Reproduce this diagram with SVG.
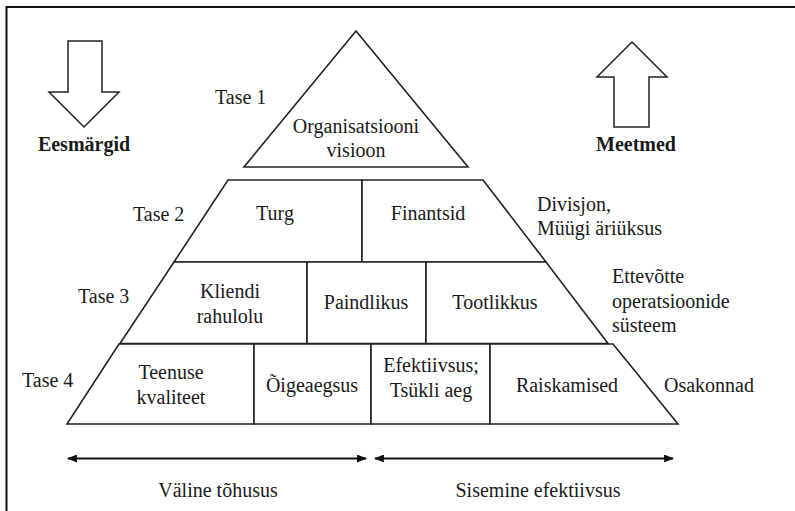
<svg xmlns="http://www.w3.org/2000/svg" width="795" height="511" viewBox="0 0 795 511">
  <defs>
    <style>
      .cell { fill: #ffffff; stroke: #222; stroke-width: 1.6; stroke-linejoin: miter; }
      .big { fill: #ffffff; stroke: #222; stroke-width: 1.5; }
      text { font-family: 'Liberation Serif', Tinos, 'Times New Roman', 'DejaVu Serif', 'Noto Serif', serif; font-size: 20px; fill: #1a1a1a; }
      .c { text-anchor: middle; }
      .b { font-weight: bold; }
      .conn { stroke: #111; stroke-width: 2; fill: none; }
    </style>
    <marker id="ah" viewBox="0 0 10 8" refX="9" refY="4" markerWidth="5" markerHeight="4" orient="auto-start-reverse" markerUnits="strokeWidth">
      <path d="M0,0 L10,4 L0,8 Z" fill="#111"/>
    </marker>
  </defs>

  <rect width="795" height="511" fill="#ffffff"/>
  <!-- frame: only the top and left sides fall inside the canvas -->
  <path d="M6.5,511 V7 H795" fill="none" stroke="#111" stroke-width="2"/>

  <!-- direction arrows -->
  <g id="goals">
    <polygon class="big" points="68,41 102,41 102,92 119,92 84,127 49,92 68,92"/>
    <text class="b c" x="84" y="151">Eesmärgid</text>
  </g>
  <g id="measures">
    <polygon class="big" points="632,42 667,77 649,77 649,127 614,127 614,77 597,77"/>
    <text class="b c" x="636" y="151">Meetmed</text>
  </g>

  <!-- level labels -->
  <g id="levels">
    <text x="215" y="104">Tase 1</text>
    <text x="133" y="221">Tase 2</text>
    <text x="78" y="303">Tase 3</text>
    <text x="22" y="387">Tase 4</text>
  </g>

  <!-- level 1 -->
  <g id="vision">
    <polygon class="cell" points="356,31 468,167 244,167"/>
    <text class="c" x="356" y="133">Organisatsiooni</text>
    <text class="c" x="356" y="157">visioon</text>
  </g>

  <!-- level 2 -->
  <g id="market">
    <polygon class="cell" points="228,180 362,180 362,262 174,262"/>
    <text class="c" x="275" y="220">Turg</text>
  </g>
  <g id="finance">
    <polygon class="cell" points="362,180 483,180 546,262 362,262"/>
    <text class="c" x="428" y="220">Finantsid</text>
  </g>
  <g id="division">
    <text x="537" y="211">Divisjon,</text>
    <text x="537" y="235">Müügi äriüksus</text>
  </g>

  <!-- level 3 -->
  <g id="satisfaction">
    <polygon class="cell" points="174,262 307,262 307,343.5 120,343.5"/>
    <text class="c" x="230" y="298">Kliendi</text>
    <text class="c" x="230" y="323">rahulolu</text>
  </g>
  <g id="flexibility">
    <polygon class="cell" points="307,262 426,262 426,343.5 307,343.5"/>
    <text class="c" x="366" y="309">Paindlikus</text>
  </g>
  <g id="productivity">
    <polygon class="cell" points="426,262 546,262 608,343.5 426,343.5"/>
    <text class="c" x="495" y="309">Tootlikkus</text>
  </g>
  <g id="operations">
    <text x="612" y="283">Ettevõtte</text>
    <text x="612" y="308">operatsioonide</text>
    <text x="612" y="332">süsteem</text>
  </g>

  <!-- level 4 -->
  <g id="quality">
    <polygon class="cell" points="119,344 254,344 254,424 67,424"/>
    <text class="c" x="171" y="379">Teenuse</text>
    <text class="c" x="171" y="404">kvaliteet</text>
  </g>
  <g id="timeliness">
    <polygon class="cell" points="254,344 371,344 371,424 254,424"/>
    <text class="c" x="312" y="392">Õigeaegsus</text>
  </g>
  <g id="efficiency">
    <polygon class="cell" points="371,344 490,344 490,424 371,424"/>
    <text class="c" x="431" y="372">Efektiivsus;</text>
    <text class="c" x="431" y="397">Tsükli aeg</text>
  </g>
  <g id="waste">
    <polygon class="cell" points="490,344 613,344 678,424 490,424"/>
    <text class="c" x="567" y="392">Raiskamised</text>
  </g>
  <g id="departments">
    <text x="664" y="392">Osakonnad</text>
  </g>

  <!-- span arrows -->
  <g id="connectors">
    <line class="conn" x1="68" y1="458.5" x2="366" y2="458.5" marker-start="url(#ah)" marker-end="url(#ah)"/>
    <line class="conn" x1="375" y1="458.5" x2="673" y2="458.5" marker-start="url(#ah)" marker-end="url(#ah)"/>
  </g>
  <g id="external">
    <text class="c" x="218" y="497">Väline tõhusus</text>
  </g>
  <g id="internal">
    <text class="c" x="538" y="497">Sisemine efektiivsus</text>
  </g>
</svg>
